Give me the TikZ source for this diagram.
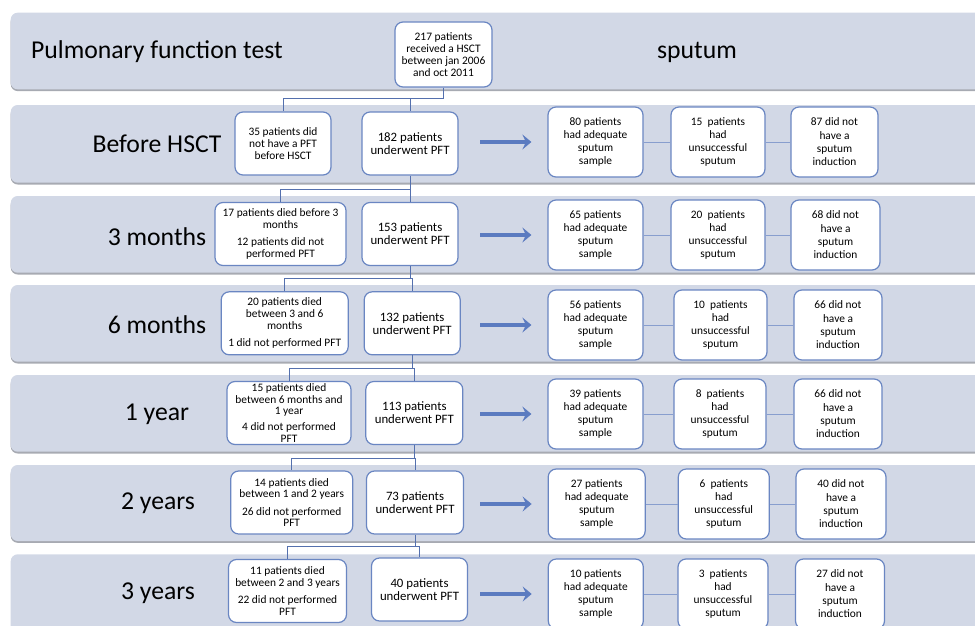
\documentclass[tikz,border=0pt]{standalone}
\usepackage{fontspec}
\setmainfont{Carlito}
\usetikzlibrary{arrows.meta}
\definecolor{bandfill}{HTML}{D2D8E6}
\definecolor{bandshadow}{HTML}{A7AAB2}
\definecolor{boxline}{HTML}{6A86C2}
\definecolor{linkline}{HTML}{5470AE}
\definecolor{arrowblue}{HTML}{5B7BC0}
\begin{document}
\begin{tikzpicture}[x=1pt,y=-1pt]
    % Styles
    \tikzset{
      band/.style={fill=bandfill,rounded corners=7pt},
      shadow band/.style={fill=bandshadow,rounded corners=7pt},
      heading/.style={font=\fontsize{25.7}{30}\selectfont,inner sep=0pt},
      box/.style={draw=boxline,line width=1.2pt,fill=white,rounded corners=8pt,align=center,inner sep=1pt},
      start box/.style={box,font=\fontsize{11.45}{12}\selectfont,minimum width=97pt,minimum height=65pt},
      pft box/.style={box,font=\fontsize{12.8}{13}\selectfont,minimum width=96pt,minimum height=63pt},
      out box/.style={box,font=\fontsize{11.4}{11.6}\selectfont,minimum height=63pt},
      sp box/.style={box,font=\fontsize{11.4}{13.3}\selectfont,minimum height=70pt},
      link/.style={draw=linkline,line width=1pt},
      sp link/.style={draw=boxline!80,line width=0.9pt},
      flow/.style={draw=arrowblue,line width=3.2pt,-{Stealth[length=9pt,width=15pt,inset=3.5pt]},shorten >=16pt}
    }
    \useasboundingbox (0,0) rectangle (975,626);

    % --- Bands ---
    \fill[shadow band] (10.7,14.5) rectangle (990,91.1);
    \fill[band] (10.7,12.7) rectangle (990,89.3);
    \fill[shadow band] (10.7,106.8) rectangle (990,184.5);
    \fill[band] (10.7,105) rectangle (990,182.7);
    \fill[shadow band] (10.7,197.8) rectangle (990,274.5);
    \fill[band] (10.7,196) rectangle (990,272.7);
    \fill[shadow band] (10.7,286.8) rectangle (990,363.5);
    \fill[band] (10.7,285) rectangle (990,361.7);
    \fill[shadow band] (10.7,376.8) rectangle (990,453.5);
    \fill[band] (10.7,375) rectangle (990,451.7);
    \fill[shadow band] (10.7,466.8) rectangle (990,542.8);
    \fill[band] (10.7,465) rectangle (990,541);
    \fill[band] (10.7,554.3) rectangle (990,640);

    % --- Headings ---
    \node[heading,anchor=west] (title) at (31,52) {Pulmonary function test};
    \node[heading] (sputum) at (697,52) {sputum};
    \node[heading] (lab_pre) at (157,144) {Before HSCT};
    \node[heading] (lab_m3) at (157,237) {3 months};
    \node[heading] (lab_m6) at (157,325) {6 months};
    \node[heading] (lab_y1) at (157,414) {1 year};
    \node[heading] (lab_y2) at (158,503) {2 years};
    \node[heading] (lab_y3) at (158,593) {3 years};

    % --- Start ---
    \node[start box] (start) at (443.5,54.5) {217 patients\\received a HSCT\\between jan 2006\\and oct 2011};

    % --- Before HSCT ---
    \node[out box,minimum width=96pt] (out_pre) at (283,143.5) {35 patients did\\not have a PFT\\before HSCT};
    \node[pft box] (pft_pre) at (410,143.5) {182 patients\\underwent PFT};
    \coordinate (j_pre) at (443.5,98.5);
    \draw[link] (start) -- (j_pre) -| (out_pre);
    \draw[link] (j_pre) -| (pft_pre);

    % --- 3 months ---
    \node[out box,minimum width=131pt] (out_m3) at (280.5,234) {17 patients died before 3\\months\\[6pt]12 patients did not\\performed PFT};
    \node[pft box] (pft_m3) at (410,234) {153 patients\\underwent PFT};
    \coordinate (j_m3) at (410,189.3);
    \draw[link] (pft_pre) -- (pft_m3);
    \draw[link] (j_m3) -| (out_m3);

    % --- 6 months ---
    \node[out box,minimum width=127pt] (out_m6) at (284.7,323.3) {20 patients died\\between 3 and 6\\months\\[6pt]1 did not performed PFT};
    \node[pft box] (pft_m6) at (412.2,323.3) {132 patients\\underwent PFT};
    \coordinate (j_m6) at (410,278.3);
    \draw[link] (pft_m3) -- (j_m6) -| (pft_m6);
    \draw[link] (j_m6) -| (out_m6);

    % --- 1 year ---
    \node[out box,minimum width=124pt,font=\fontsize{11.4}{11.3}\selectfont] (out_y1) at (289,413) {15 patients died\\between 6 months and\\1 year\\[5pt]4 did not performed\\PFT};
    \node[pft box,minimum width=97pt] (pft_y1) at (414.3,413) {113 patients\\underwent PFT};
    \coordinate (j_y1) at (412.2,368.3);
    \draw[link] (pft_m6) -- (j_y1) -| (pft_y1);
    \draw[link] (j_y1) -| (out_y1);

    % --- 2 years ---
    \node[out box,minimum width=122pt] (out_y2) at (291.7,502.5) {14 patients died\\between 1 and 2 years\\[6pt]26 did not performed\\PFT};
    \node[pft box,minimum width=97pt] (pft_y2) at (415,502.5) {73 patients\\underwent PFT};
    \coordinate (j_y2) at (414.3,458.3);
    \draw[link] (pft_y1) -- (j_y2) -| (pft_y2);
    \draw[link] (j_y2) -| (out_y2);

    % --- 3 years ---
    \node[out box,minimum width=118pt] (out_y3) at (287.5,591) {11 patients died\\between 2 and 3 years\\[6pt]22 did not performed\\PFT};
    \node[pft box,minimum width=96pt] (pft_y3) at (419.5,589.5) {40 patients\\underwent PFT};
    \coordinate (j_y3) at (415,546.7);
    \draw[link] (pft_y2) -- (j_y3) -| (pft_y3);
    \draw[link] (j_y3) -| (out_y3);

    % --- Sputum: before HSCT ---
    \node[sp box,minimum width=95pt] (ok_pre) at (595.5,142) {80 patients\\had adequate\\sputum\\sample};
    \node[sp box,minimum width=94pt] (fail_pre) at (718,142) {15~ patients\\had\\unsuccessful\\sputum};
    \node[sp box,minimum width=87pt] (none_pre) at (834.5,142) {87 did not\\have a\\sputum\\induction};
    \coordinate (a_pre) at (480,142);
    \draw[flow] (a_pre) -- (ok_pre);
    \draw[sp link] (ok_pre) -- (fail_pre);
    \draw[sp link] (fail_pre) -- (none_pre);

    % --- Sputum: 3 months ---
    \node[sp box,minimum width=95pt] (ok_m3) at (595.5,235) {65 patients\\had adequate\\sputum\\sample};
    \node[sp box,minimum width=94pt] (fail_m3) at (718,235) {20~ patients\\had\\unsuccessful\\sputum};
    \node[sp box,minimum width=89pt] (none_m3) at (835.5,235) {68 did not\\have a\\sputum\\induction};
    \coordinate (a_m3) at (480,235);
    \draw[flow] (a_m3) -- (ok_m3);
    \draw[sp link] (ok_m3) -- (fail_m3);
    \draw[sp link] (fail_m3) -- (none_m3);

    % --- Sputum: 6 months ---
    \node[sp box,minimum width=95pt] (ok_m6) at (595.5,325) {56 patients\\had adequate\\sputum\\sample};
    \node[sp box,minimum width=93pt] (fail_m6) at (720.5,325) {10~ patients\\had\\unsuccessful\\sputum};
    \node[sp box,minimum width=88pt] (none_m6) at (838,325) {66 did not\\have a\\sputum\\induction};
    \coordinate (a_m6) at (480,325);
    \draw[flow] (a_m6) -- (ok_m6);
    \draw[sp link] (ok_m6) -- (fail_m6);
    \draw[sp link] (fail_m6) -- (none_m6);

    % --- Sputum: 1 year ---
    \node[sp box,minimum width=95pt] (ok_y1) at (595.5,414) {39 patients\\had adequate\\sputum\\sample};
    \node[sp box,minimum width=92pt] (fail_y1) at (720,414) {8~ patients\\had\\unsuccessful\\sputum};
    \node[sp box,minimum width=88pt] (none_y1) at (838,414) {66 did not\\have a\\sputum\\induction};
    \coordinate (a_y1) at (480,414);
    \draw[flow] (a_y1) -- (ok_y1);
    \draw[sp link] (ok_y1) -- (fail_y1);
    \draw[sp link] (fail_y1) -- (none_y1);

    % --- Sputum: 2 years ---
    \node[sp box,minimum width=97pt] (ok_y2) at (596.7,504) {27 patients\\had adequate\\sputum\\sample};
    \node[sp box,minimum width=91pt] (fail_y2) at (723.8,504) {6~ patients\\had\\unsuccessful\\sputum};
    \node[sp box,minimum width=90pt] (none_y2) at (841,504) {40 did not\\have a\\sputum\\induction};
    \coordinate (a_y2) at (480,504);
    \draw[flow] (a_y2) -- (ok_y2);
    \draw[sp link] (ok_y2) -- (fail_y2);
    \draw[sp link] (fail_y2) -- (none_y2);

    % --- Sputum: 3 years ---
    \node[sp box,minimum width=95pt] (ok_y3) at (595.8,594) {10 patients\\had adequate\\sputum\\sample};
    \node[sp box,minimum width=90pt] (fail_y3) at (723,594) {3~ patients\\had\\unsuccessful\\sputum};
    \node[sp box,minimum width=89pt] (none_y3) at (840,594) {27 did not\\have a\\sputum\\induction};
    \coordinate (a_y3) at (480,594);
    \draw[flow] (a_y3) -- (ok_y3);
    \draw[sp link] (ok_y3) -- (fail_y3);
    \draw[sp link] (fail_y3) -- (none_y3);
\end{tikzpicture}
\end{document}
